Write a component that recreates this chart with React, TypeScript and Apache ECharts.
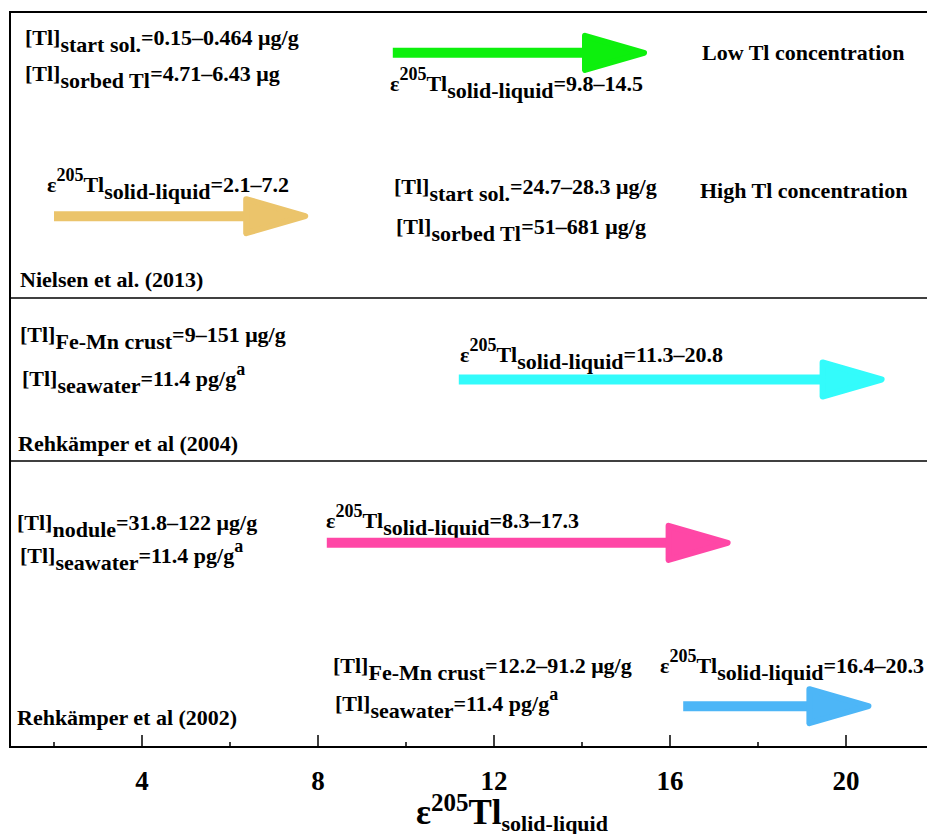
import React, { useEffect, useRef } from "react";
import * as echarts from "echarts";

// ---------- data ----------
const rowPos = [1, 2, 3, 4, 5];
const arrowStart = [9.7, 2.0, 11.2, 8.2, 16.3];
const arrowEnd = [15.5, 7.8, 20.9, 17.4, 20.6];
const epsRanges = ["9.8–14.5", "2.1–7.2", "11.3–20.8", "8.3–17.3", "16.4–20.3"];
const majorTicks = [4, 8, 12, 16, 20];
const minorTicks = [2, 6, 10, 14, 18];
const separatorRows = [2.5, 3.5];
const sources = ["Nielsen et al. (2013)", "Rehkämper et al (2004)", "Rehkämper et al (2002)"];
const concSubs = ["start sol.", "sorbed Tl", "start sol.", "sorbed Tl", "Fe-Mn crust", "nodule", "Fe-Mn crust"];
const concValues = ["0.15–0.464 μg/g", "4.71–6.43 μg", "24.7–28.3 μg/g", "51–681 μg/g", "9–151 μg/g", "31.8–122 μg/g", "12.2–91.2 μg/g"];
const seawaterValue = "11.4 pg/g";
const notes = ["Low Tl concentration", "High Tl concentration"];

// ---------- styles / layout ----------
const arrowColors = ["#0df00d", "#ebc46b", "#33fbfb", "#ff47a6", "#4db6f7"];
const FONT = '"Liberation Serif", "Times New Roman", serif';
const F = 22;

const concPos = [
  [25, 37], [25, 73], [394, 186], [396, 226], [20, 334], [17, 522], [333, 665],
];
const seawaterPos = [[22, 378], [20, 555], [335, 703]];
const epsPos = [[390, 83], [47, 184], [460, 354], [326, 520], [660, 665]];
const notePos = [[702, 52], [700, 190]];
const sourcePos = [[20, 279], [18, 443], [17, 717]];

const tok = (size: number, lh: number, va: string) => ({
  fontFamily: FONT,
  fontWeight: "bold",
  fontSize: size,
  lineHeight: lh,
  verticalAlign: va,
  fill: "#000",
  color: "#000",
});
const rich = {
  m: tok(F, 36, "middle"),
  sb: tok(F, 22, "bottom"),
  sp: tok(18, 10, "top"),
};

const concText = (sub: string, v: string) => `{m|[Tl]}{sb|${sub}}{m|=${v}}`;
const seawaterText = () => `{m|[Tl]}{sb|seawater}{m|=${seawaterValue}}{sp|a}`;
const epsText = (r: string) => `{m|ε}{sp|205}{m|Tl}{sb|solid-liquid}{m|=${r}}`;

const textEl = (text: string, x: number, y: number) => ({
  type: "text",
  x,
  y,
  silent: true,
  style: {
    text,
    rich,
    fontFamily: FONT,
    fontWeight: "bold",
    fontSize: F,
    fill: "#000",
    align: "left",
    verticalAlign: "middle",
  },
});

export default function App() {
  const ref = useRef<HTMLDivElement>(null);
  useEffect(() => {
    if (!ref.current) return;
    const chart = echarts.init(ref.current, null, { renderer: "svg" });

    const graphics: any[] = [];
    concSubs.forEach((s, i) => graphics.push(textEl(concText(s, concValues[i]), concPos[i][0], concPos[i][1])));
    seawaterPos.forEach((p) => graphics.push(textEl(seawaterText(), p[0], p[1])));
    epsRanges.forEach((r, i) => graphics.push(textEl(epsText(r), epsPos[i][0], epsPos[i][1])));
    notes.forEach((n, i) => graphics.push(textEl(`{m|${n}}`, notePos[i][0], notePos[i][1])));
    sources.forEach((s, i) => graphics.push(textEl(`{m|${s}}`, sourcePos[i][0], sourcePos[i][1])));

    const HL = 66, HW = 20, SW = 5;
    const option: any = {
      animation: false,
      backgroundColor: "#fff",
      grid: {
        left: 10,
        top: 12,
        width: 924,
        height: 735,
        show: true,
        borderColor: "#000",
        borderWidth: 2,
        containLabel: false,
        outerBoundsMode: "none",
      },
      xAxis: [
        {
          type: "value",
          min: 1,
          max: 22,
          position: "bottom",
          axisLine: { show: true, onZero: false, lineStyle: { color: "#000", width: 2 } },
          axisTick: { show: true, inside: true, length: 12, customValues: majorTicks, lineStyle: { color: "#000", width: 1.5 } },
          axisLabel: {
            show: true,
            customValues: majorTicks,
            margin: 20,
            color: "#000",
            fontFamily: FONT,
            fontWeight: "bold",
            fontSize: 27,
          },
          splitLine: { show: false },
          name: "{e|ε}{sp|205}{e|Tl}{sb|solid-liquid}",
          nameLocation: "middle",
          nameGap: 43,
          nameMoveOverlap: false,
          nameTextStyle: {
            padding: [0, 0, 0, 80],
            rich: {
              e: { fontFamily: FONT, fontWeight: "bold", fontSize: 35, lineHeight: 44, verticalAlign: "middle", color: "#000" },
              sp: { fontFamily: FONT, fontWeight: "bold", fontSize: 25, lineHeight: 14, verticalAlign: "top", color: "#000" },
              sb: { fontFamily: FONT, fontWeight: "bold", fontSize: 22, lineHeight: 28, verticalAlign: "bottom", color: "#000" },
            },
          },
        },
        {
          type: "value",
          min: 1,
          max: 22,
          position: "bottom",
          axisLine: { show: false },
          axisTick: { show: true, inside: true, length: 5, customValues: minorTicks, lineStyle: { color: "#000", width: 1.5 } },
          axisLabel: { show: false },
          splitLine: { show: false },
        },
      ],
      yAxis: {
        type: "value",
        min: 0.75,
        max: 5.25,
        inverse: true,
        axisLine: { show: true, onZero: false, lineStyle: { color: "#000", width: 2 } },
        axisTick: { show: false },
        axisLabel: { show: false },
        splitLine: { show: false },
      },
      series: [
        {
          type: "custom",
          xAxisIndex: 0,
          yAxisIndex: 0,
          data: rowPos.map((r, i) => [arrowStart[i], arrowEnd[i], r]),
          encode: { x: [0, 1], y: 2 },
          clip: false,
          renderItem: (params: any, api: any) => {
            const p0 = api.coord([api.value(0), api.value(2)]);
            const p1 = api.coord([api.value(1), api.value(2)]);
            const color = arrowColors[params.dataIndex];
            const y = p0[1];
            const baseX = p1[0] - HL;
            return {
              type: "group",
              children: [
                {
                  type: "rect",
                  shape: { x: p0[0], y: y - SW, width: baseX - p0[0] + 4, height: 2 * SW },
                  style: { fill: color },
                },
                {
                  type: "polygon",
                  shape: {
                    points: [
                      [baseX + 3, y - HW + 3],
                      [p1[0] - 4, y],
                      [baseX + 3, y + HW - 3],
                    ],
                  },
                  style: { fill: color, stroke: color, lineWidth: 6, lineJoin: "round" },
                },
              ],
            };
          },
          markLine: {
            silent: true,
            symbol: ["none", "none"],
            label: { show: false },
            lineStyle: { color: "#000", width: 1.5, type: "solid" },
            data: separatorRows.map((v) => ({ yAxis: v })),
          },
        },
      ],
      graphic: graphics,
    };
    chart.setOption(option);
    return () => chart.dispose();
  }, []);

  return (
    <div
      ref={ref}
      style={{ position: "absolute", left: 0, top: 0, width: 927, height: 834, background: "#fff" }}
    />
  );
}
